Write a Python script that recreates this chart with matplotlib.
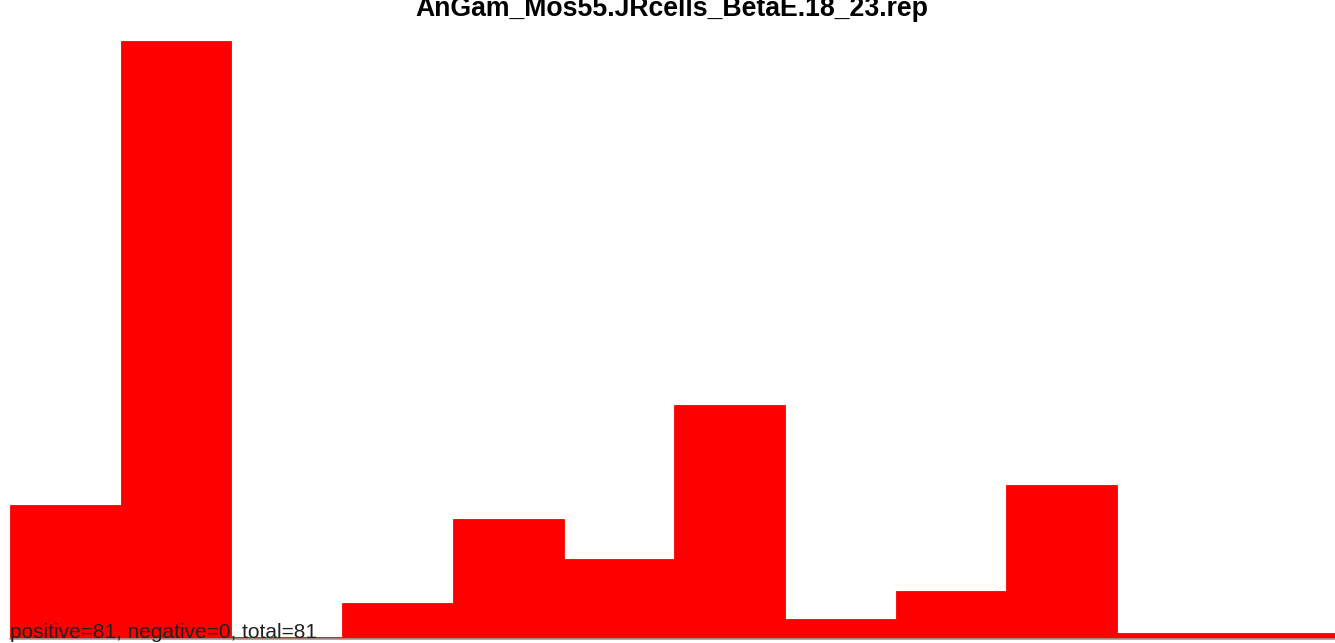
import matplotlib
matplotlib.use("Agg")
import matplotlib.pyplot as plt

plt.rcParams['font.family'] = ['Liberation Sans', 'DejaVu Sans']

bins = list(range(12))
values = [133.5, 597.5, 2.0, 35.5, 119.5, 79.5, 233.5, 19.5, 47.5, 153.5, 5.5, 5.5]
title = "AnGam_Mos55.JRcells_BetaE.18_23.rep"
note = "positive=81, negative=0, total=81"

W, H = 1335, 643
bw = 110.7
fig = plt.figure(figsize=(W/100, H/100), dpi=100)
ax = fig.add_axes([10/W, 4.5/H, 12*bw/W, (638.5-41)/H])
ax.bar(bins, values, width=1.0, align='edge', color='#ff0000',
       edgecolor='#ff0000', linewidth=0.6)
ax.set_xlim(0, 12)
ax.set_ylim(0, max(values))
ax.axis('off')
fig.add_artist(plt.Line2D([10/W, 1], [3.6/H, 3.6/H], color='#999999', lw=1.2))
fig.text(672/W, 1 - 16/H, title, ha='center', va='baseline', fontsize=19.2, fontweight='bold')
fig.text(10/W, 5/H, note, ha='left', va='baseline', fontsize=15.0, color='#222222')
fig.savefig('out.png', dpi=100)
